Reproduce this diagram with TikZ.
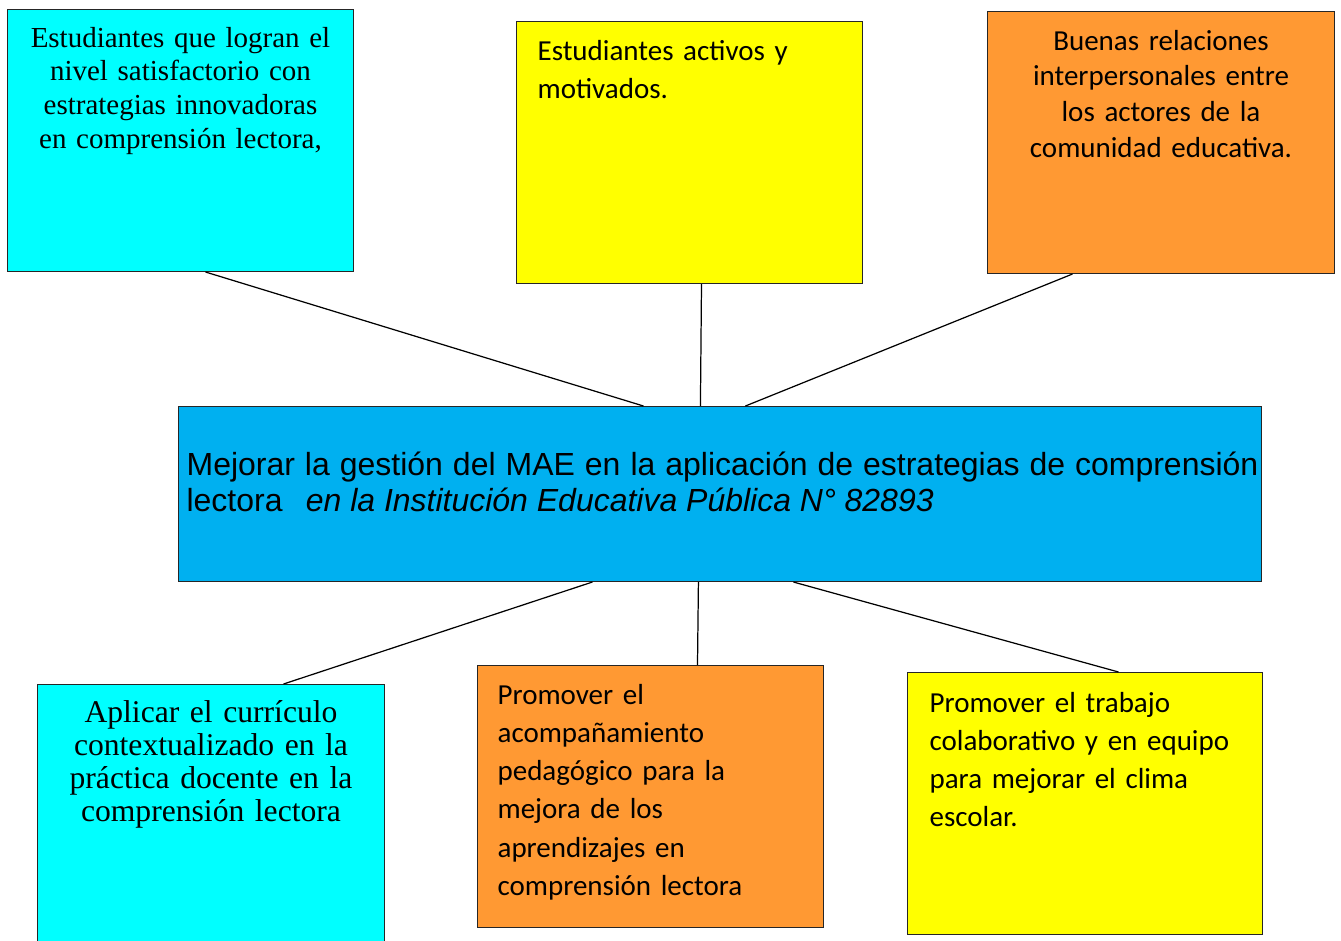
\documentclass[tikz,border=0pt]{standalone}
\usepackage{fontspec}
\newfontfamily\tmsfont{Liberation Serif}
\newfontfamily\calfont{Carlito}
\newfontfamily\arifont{Liberation Sans}
\definecolor{celeste}{HTML}{00FFFF}
\definecolor{amarillo}{HTML}{FFFF00}
\definecolor{naranja}{HTML}{FF9933}
\definecolor{azul}{HTML}{00B0F0}

\begin{document}
\begin{tikzpicture}[x=0.02cm,y=-0.02cm,line width=0.7pt,
  caja/.style={draw=black!85,line width=0.6pt,inner sep=0pt,anchor=north west},
  serif/.style={font=\tmsfont\fontsize{16.5}{19.3}\selectfont,text width=6.92cm,align=center,anchor=base,inner sep=0pt},
  calib/.style={font=\calfont\fontsize{16.5}{21.8}\selectfont,text width=6.2cm,align=left,anchor=base west,inner sep=0pt}]
  \useasboundingbox (0,0) rectangle (1341,940);
  % resultados (arriba)
  \node[caja,fill=celeste,minimum width=6.92cm,minimum height=5.24cm] (r1) at (7,9) {};
  \node[caja,fill=amarillo,minimum width=6.92cm,minimum height=5.24cm] (r2) at (516,21) {};
  \node[caja,fill=naranja,minimum width=6.94cm,minimum height=5.24cm] (r3) at (987,11) {};
  \node[serif] (t1) at ([shift={(0,38)}]r1.north)
    {Estudiantes que logran el\\nivel satisfactorio con\\estrategias innovadoras\\en comprensión lectora,};
  \node[calib] (t2) at ([shift={(21,39)}]r2.north west) {Estudiantes activos y\\motivados.};
  \node[calib,text width=6.94cm,align=center,anchor=base,font=\calfont\fontsize{16.5}{20.4}\selectfont] (t3)
    at ([shift={(0,39)}]r3.north)
    {Buenas relaciones\\interpersonales entre\\los actores de la\\comunidad educativa.};
  % objetivo central
  \node[caja,fill=azul,minimum width=21.66cm,minimum height=3.5cm] (c) at (178,406) {};
  \node[font=\arifont\fontsize{18.2}{21}\selectfont,text width=21.44cm,align=justify,
    anchor=base west,inner sep=0pt] (tc) at ([shift={(8,69)}]c.north west)
    {Mejorar la gestión del MAE en la aplicación de estrategias de comprensión\linebreak
     lectora \hspace{0.45em}\textit{en la Institución Educativa Pública N° 82893}};
  % medios (abajo)
  \node[caja,fill=celeste,minimum width=6.94cm,minimum height=5.52cm] (m1) at (37,684) {};
  \node[caja,fill=naranja,minimum width=6.92cm,minimum height=5.24cm] (m2) at (477,665) {};
  \node[caja,fill=amarillo,minimum width=7.1cm,minimum height=5.24cm] (m3) at (907,672) {};
  \node[serif,text width=6.94cm,font=\tmsfont\fontsize{18}{18.8}\selectfont] (t5) at ([shift={(0,38)}]m1.north)
    {Aplicar el currículo\\contextualizado en la\\práctica docente en la\\comprensión lectora};
  \node[calib] (t6) at ([shift={(20,39)}]m2.north west)
    {Promover el\\acompañamiento\\pedagógico para la\\mejora de los\\aprendizajes en\\comprensión lectora};
  \node[calib,font=\calfont\fontsize{16.5}{21.7}\selectfont] (t7) at ([shift={(22,40)}]m3.north west)
    {Promover el trabajo\\colaborativo y en equipo\\para mejorar el clima\\escolar.};
  % conectores
  \draw ([shift={(25,0)}]r1.south) -- ([shift={(-76.5,0)}]c.north);
  \draw ([shift={(12,0)}]r2.south) -- ([shift={(-19.5,0)}]c.north);
  \draw ([shift={(-88.5,0)}]r3.south) -- ([shift={(25.5,0)}]c.north);
  \draw ([shift={(-127.5,0)}]c.south) -- ([shift={(72.5,0)}]m1.north);
  \draw ([shift={(-21.5,0)}]c.south) -- ([shift={(47,0)}]m2.north);
  \draw ([shift={(73.5,0)}]c.south) -- ([shift={(33.5,0)}]m3.north);
\end{tikzpicture}
\end{document}
